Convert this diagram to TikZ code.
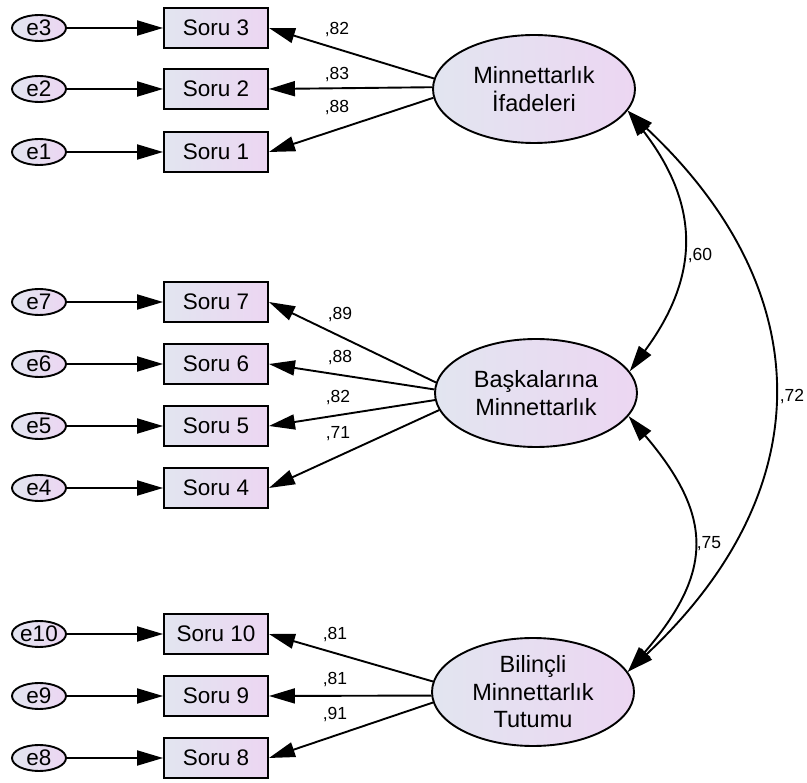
\documentclass[tikz,border=0pt]{standalone}
\usepackage{fontspec}
\setmainfont{Liberation Sans}
\usetikzlibrary{arrows.meta,shapes.geometric}
\definecolor{shadeL}{RGB}{226,229,240}
\definecolor{shadeR}{RGB}{236,214,242}
\begin{document}
\begin{tikzpicture}[x=1pt,y=-1pt,
  every node/.style={font=\fontsize{22.5}{27}\selectfont},
  obs/.style={draw, line width=1.9pt, rectangle, minimum width=104pt, minimum height=40pt, inner sep=0pt, left color=shadeL, right color=shadeR},
  err/.style={draw, line width=1.9pt, ellipse, minimum width=54pt, minimum height=26pt, inner sep=0pt, left color=shadeL, right color=shadeR},
  lat/.style={draw, line width=1.9pt, ellipse, minimum width=202pt, minimum height=108pt, inner sep=0pt, align=center, left color=shadeL, right color=shadeR, font=\fontsize{23.5}{27.5}\selectfont},
  coef/.style={font=\fontsize{17.5}{20}\selectfont, inner sep=0pt},
  lpath/.style={line width=1.9pt, -{Triangle[length=26pt,width=15pt]}},
  cov/.style={line width=1.9pt, {Triangle[length=26pt,width=15pt]}-{Triangle[length=26pt,width=15pt]}}
]
\useasboundingbox (0,0) rectangle (807,783);

% latent variables
\node[lat] (mi) at (534,89) {Minnettarlık\\İfadeleri};
\node[lat] (bm) at (536,393) {Başkalarına\\Minnettarlık};
\node[lat] (bt) at (533,692) {Bilinçli\\Minnettarlık\\Tutumu};

% observed variables
\node[obs] (s3) at (216,28) {Soru 3};
\node[obs] (s2) at (216,89) {Soru 2};
\node[obs] (s1) at (216,152) {Soru 1};
\node[obs] (s7) at (216,302) {Soru 7};
\node[obs] (s6) at (216,364) {Soru 6};
\node[obs] (s5) at (216,426) {Soru 5};
\node[obs] (s4) at (216,488) {Soru 4};
\node[obs] (s10) at (216,634) {Soru 10};
\node[obs] (s9) at (216,696) {Soru 9};
\node[obs] (s8) at (216,758) {Soru 8};

% errors
\node[err] (e3) at (39,28) {e3};
\node[err] (e2) at (39,89) {e2};
\node[err] (e1) at (39,152) {e1};
\node[err] (e7) at (39,302) {e7};
\node[err] (e6) at (39,364) {e6};
\node[err] (e5) at (39,426) {e5};
\node[err] (e4) at (39,488) {e4};
\node[err] (e10) at (39,634) {e10};
\node[err] (e9) at (39,696) {e9};
\node[err] (e8) at (39,758) {e8};

% error paths
\foreach \i in {1,...,10} {
  \draw[lpath] (e\i.east) -- (s\i.west);
}

% loadings
\draw[lpath] (mi.174) -- (s3.east);
\draw[lpath] (mi.179) -- (s2.east);
\draw[lpath] (mi.185) -- (s1.east);
\draw[lpath] (bm.174) -- (s7.east);
\draw[lpath] (bm.178) -- (s6.east);
\draw[lpath] (bm.184) -- (s5.east);
\draw[lpath] (bm.190) -- (s4.east);
\draw[lpath] (bt.174) -- (s10.east);
\draw[lpath] (bt.182) -- (s9.east);
\draw[lpath] (bt.186) -- (s8.east);

% loading labels
\node[coef] (l3) at (337,30) {,82};
\node[coef] (l2) at (337,75) {,83};
\node[coef] (l1) at (337,108) {,88};
\node[coef] (l7) at (340,315) {,89};
\node[coef] (l6) at (340,358) {,88};
\node[coef] (l5) at (338,398) {,82};
\node[coef] (l4) at (338,434) {,71};
\node[coef] (l10) at (335,635) {,81};
\node[coef] (l9) at (335,680) {,81};
\node[coef] (l8) at (335,715) {,91};

% covariances
\draw[cov] (mi.-13) .. controls +(73,95) and +(70,-95) .. (bm.13);
\draw[cov] (mi.-13) .. controls +(193,181) and +(193,-181) .. (bt.12);
\draw[cov] (bm.-14) .. controls +(85,100) and +(86,-100) .. (bt.12);
\node[coef] (c60) at (700,256) {,60};
\node[coef] (c75) at (709,544) {,75};
\node[coef] (c72) at (792,397) {,72};
\end{tikzpicture}
\end{document}
